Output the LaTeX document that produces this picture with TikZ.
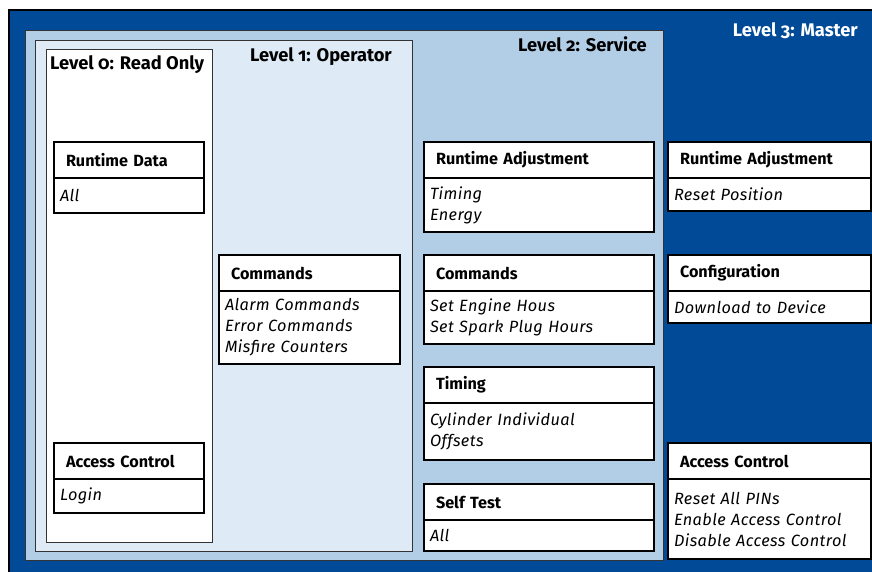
\documentclass[tikz,border=0pt]{standalone}
\usepackage{fontspec}
\setmainfont{Fira Sans}[Numbers=OldStyle]
\newfontfamily\itemfont{Fira Sans}[Numbers=OldStyle, LetterSpace=2.5]
\usepackage{tikz}
\usetikzlibrary{positioning}

\definecolor{masterblue}{RGB}{0,74,152}
\definecolor{serviceblue}{RGB}{178,206,230}
\definecolor{operblue}{RGB}{222,235,246}

\begin{document}
\begin{tikzpicture}[x=1pt, y=-1pt,
    hdr/.style={draw, fill=white, line width=1.6pt, outer sep=0pt, inner xsep=12pt,
        text width=#1-24pt, minimum height=36pt, align=left, anchor=north west,
        font=\bfseries\fontsize{16.2}{19}\selectfont},
    itm/.style={draw, fill=white, line width=1.6pt, outer sep=0pt, inner xsep=6pt,
        text width=#1-12pt, align=left, font=\itemfont\itshape\fontsize{16.3}{21}\selectfont},
    lvl/.style={anchor=base west, inner sep=0pt, font=\bfseries\fontsize{18.3}{21}\selectfont},
    frame/.style={draw=black!80, line width=1pt}]
    \useasboundingbox (0,0) rectangle (872,571);
    \fill[white] (0,0) rectangle (872,571);

    % Level 3 background
    \draw[fill=masterblue, line width=1.5pt] (9,10) rectangle (880,580);
    % Level 2, 1, 0 areas
    \draw[frame, fill=serviceblue] (25,30) rectangle (663,560);
    \draw[frame, fill=operblue] (35,40) rectangle (412,551);
    \draw[frame, fill=white] (46,49) rectangle (212,542);

    % Level titles
    \node[lvl] (lv0) at (50,69) {Level 0: Read Only};
    \node[lvl] (lv1) at (250,61) {Level 1: Operator};
    \node[lvl, anchor=base east] (lv2) at (647,51) {Level 2: Service};
    \node[lvl, anchor=base east, text=white] (lv3) at (858,36) {Level 3: Master};

    % Level 0 boxes
    \node[hdr=150] (ro-data-h) at (54,142) {Runtime Data};
    \node[itm=150, minimum height=35, below=0pt of ro-data-h] (ro-data-b) {All};
    \node[hdr=150] (ro-acc-h) at (54,443) {Access Control};
    \node[itm=150, minimum height=34, below=0pt of ro-acc-h] (ro-acc-b) {Login};

    % Level 1 boxes
    \node[hdr=181] (op-cmd-h) at (219,255) {Commands};
    \node[itm=181, minimum height=73, below=0pt of op-cmd-h] (op-cmd-b)
        {Alarm Commands\\Error Commands\\Misfire Counters};

    % Level 2 boxes
    \node[hdr=230] (sv-rt-h) at (424,142) {Runtime Adjustment};
    \node[itm=230, minimum height=54, below=0pt of sv-rt-h] (sv-rt-b) {Timing\\Energy};
    \node[hdr=230] (sv-cmd-h) at (424,255) {Commands};
    \node[itm=230, minimum height=53, below=0pt of sv-cmd-h] (sv-cmd-b)
        {Set Engine Hous\\Set Spark Plug Hours};
    \node[hdr=230] (sv-tim-h) at (424,367) {Timing};
    \node[itm=230, minimum height=57, below=0pt of sv-tim-h] (sv-tim-b)
        {Cylinder Individual\\Offsets};
    \node[hdr=230] (sv-test-h) at (424,484) {Self Test};
    \node[itm=230, minimum height=31, below=0pt of sv-test-h] (sv-test-b) {All};

    % Level 3 boxes
    \node[hdr=203] (ms-rt-h) at (668,142) {Runtime Adjustment};
    \node[itm=203, minimum height=33, below=0pt of ms-rt-h] (ms-rt-b) {Reset Position};
    \node[hdr=203] (ms-cfg-h) at (668,255) {Configuration};
    \node[itm=203, minimum height=32, below=0pt of ms-cfg-h] (ms-cfg-b) {Download to Device};
    \node[hdr=203] (ms-acc-h) at (668,443) {Access Control};
    \node[itm=203, minimum height=80, below=0pt of ms-acc-h] (ms-acc-b)
        {Reset All PINs\\Enable Access Control\\Disable Access Control};
\end{tikzpicture}
\end{document}
